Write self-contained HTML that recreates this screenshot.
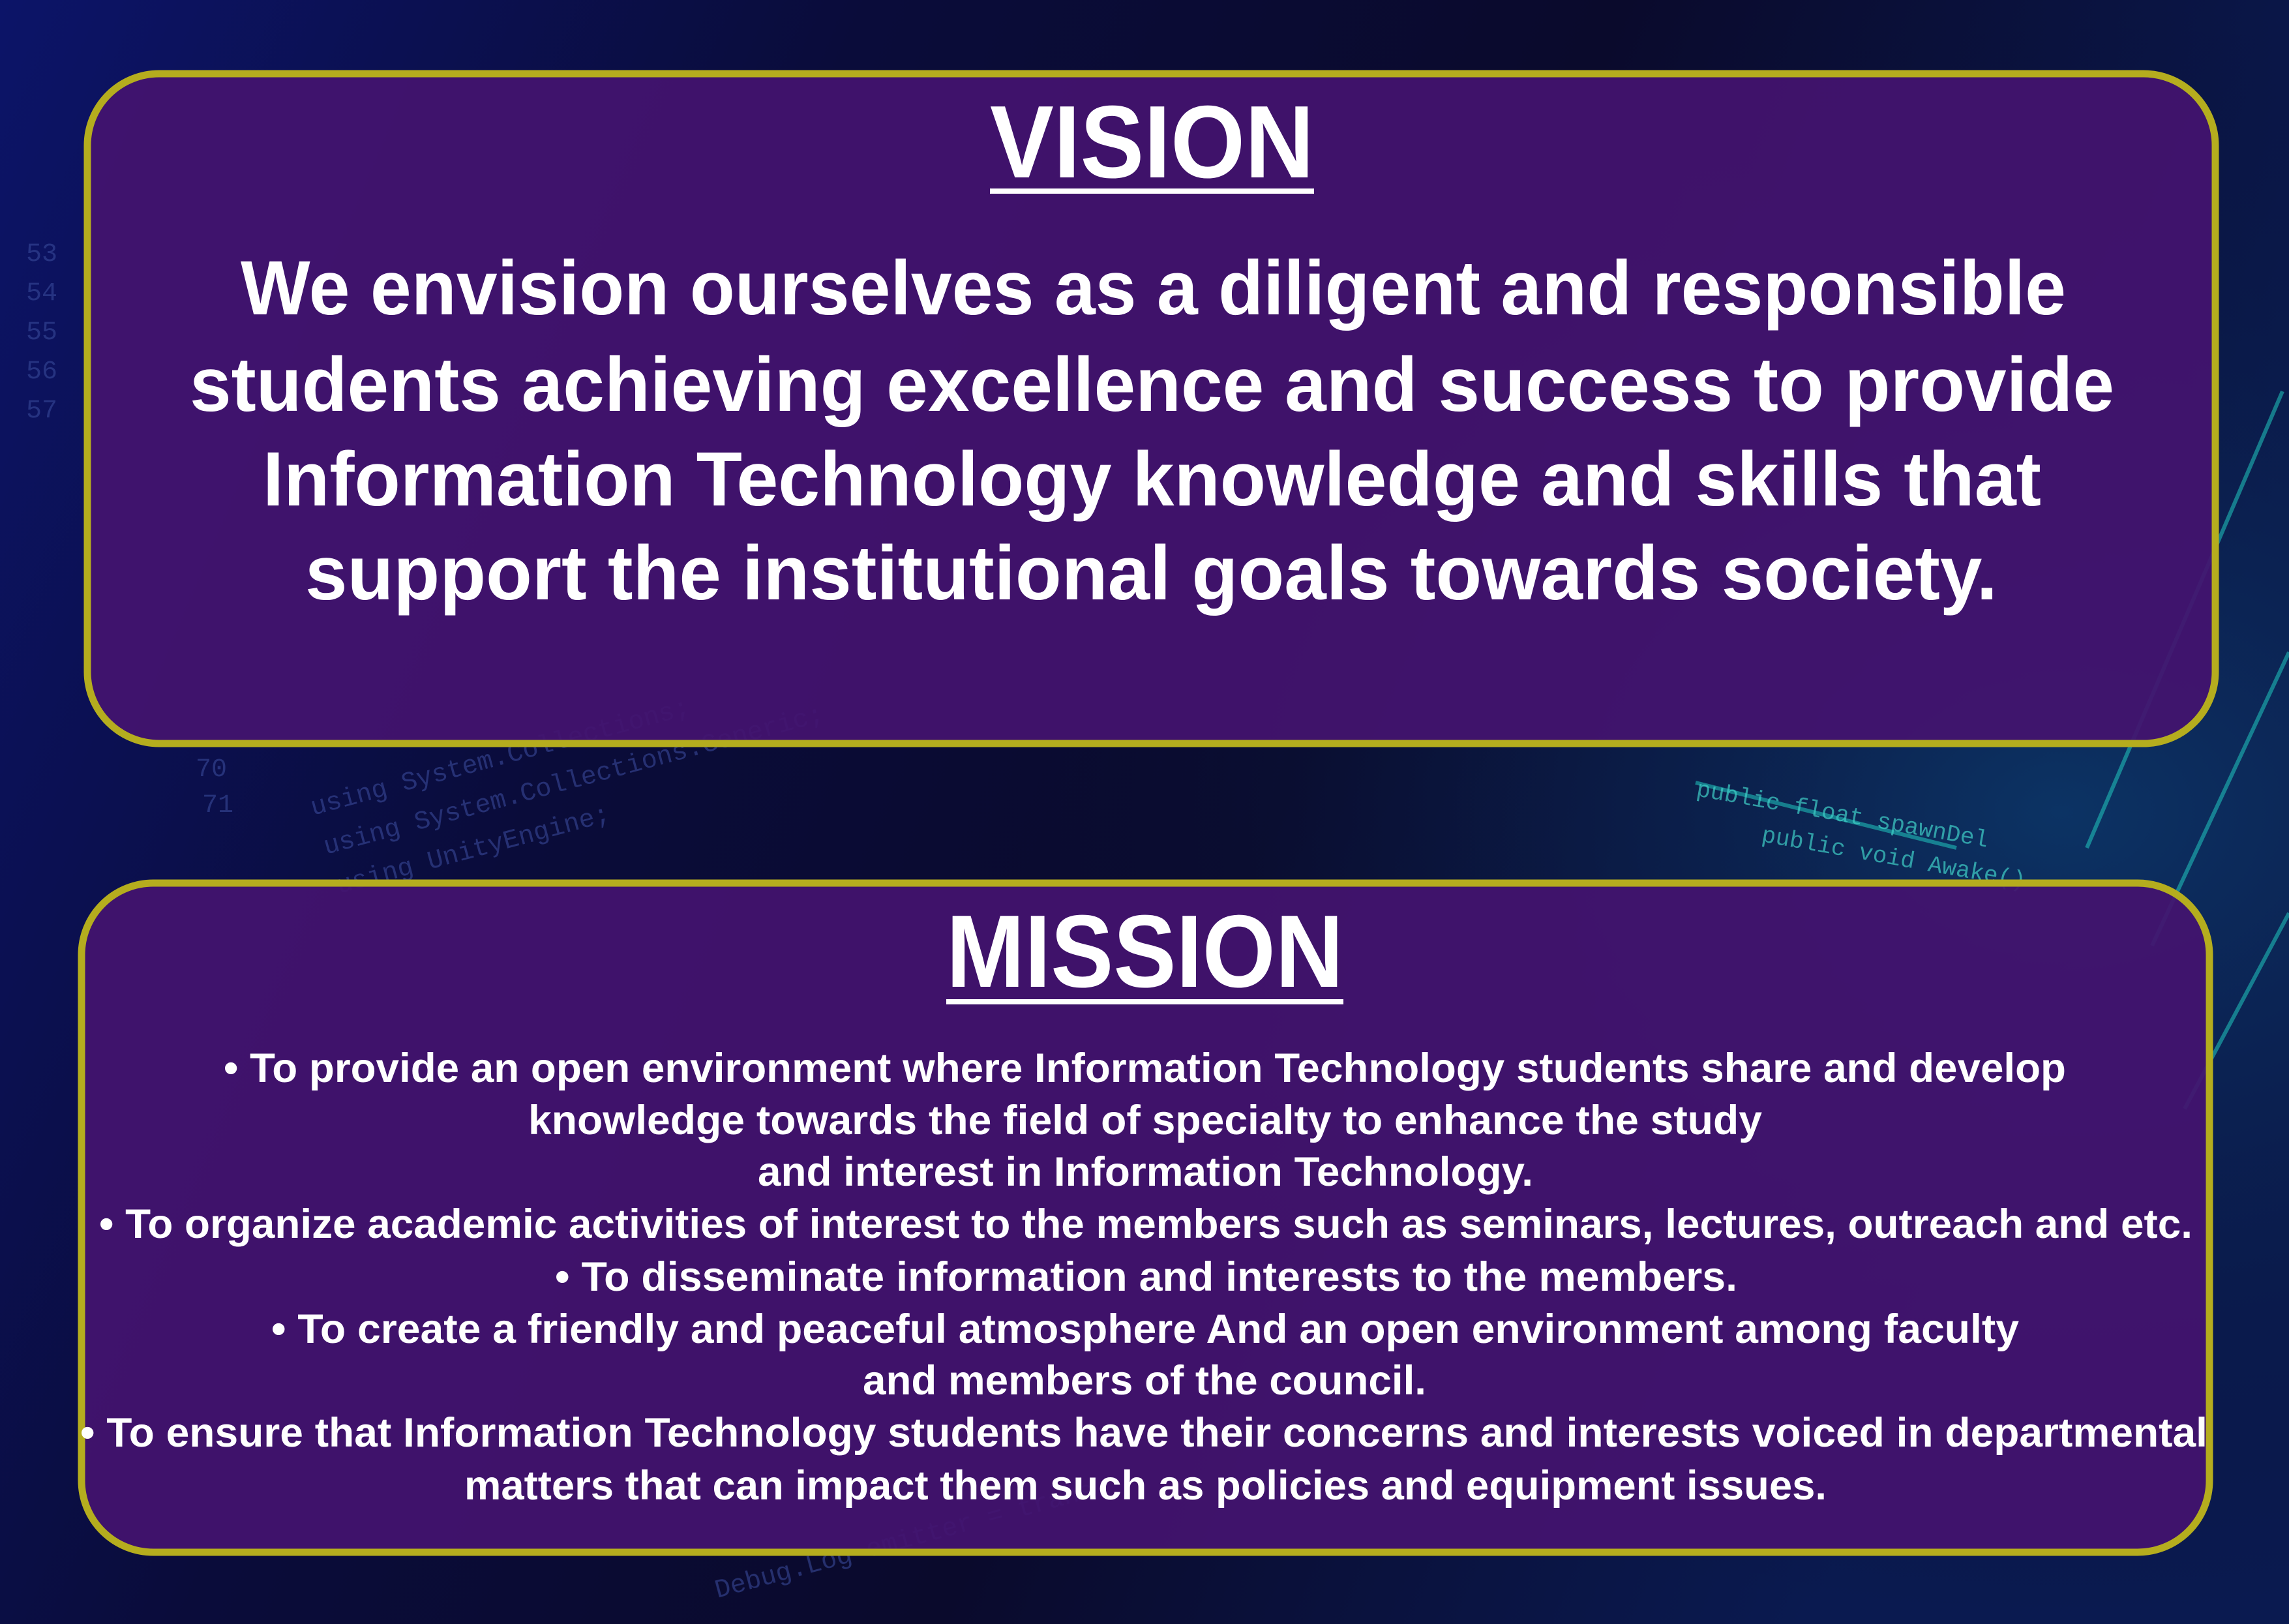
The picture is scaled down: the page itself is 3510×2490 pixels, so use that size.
<!DOCTYPE html>
<html><head><meta charset="utf-8"><style>
html,body{margin:0;padding:0;background:#080a30;}
svg{display:block}
</style></head><body>
<svg width="3510" height="2490" viewBox="0 0 3510 2490" xmlns="http://www.w3.org/2000/svg">
<defs>
<linearGradient id="bg" x1="0" y1="0" x2="1" y2="0.3">
<stop offset="0" stop-color="#0c1468"/>
<stop offset="0.35" stop-color="#0a0c3a"/>
<stop offset="0.65" stop-color="#0a0a2c"/>
<stop offset="1" stop-color="#0a1a50"/>
</linearGradient>
<radialGradient id="glow" cx="0.9" cy="0.5" r="0.5">
<stop offset="0" stop-color="#0d3a6a" stop-opacity="0.8"/>
<stop offset="1" stop-color="#0a0a2c" stop-opacity="0"/>
</radialGradient>
</defs>
<rect width="3510" height="2490" fill="url(#bg)"/>
<rect width="3510" height="2490" fill="url(#glow)"/>
<g font-family="Liberation Mono, monospace" font-size="40" fill="#3a4a9a" opacity="0.6">
<text x="480" y="1250" transform="rotate(-15 480 1250)">using System.Collections;</text>
<text x="500" y="1310" transform="rotate(-15 500 1310)">using System.Collections.Generic;</text>
<text x="520" y="1370" transform="rotate(-15 520 1370)">using UnityEngine;</text>
<text x="300" y="1190">70</text><text x="310" y="1245">71</text>
<text x="1100" y="2450" transform="rotate(-15 1100 2450)">Debug.Log  emitter = trans</text>
<text x="40" y="400">53</text><text x="40" y="460">54</text><text x="40" y="520">55</text><text x="40" y="580">56</text><text x="40" y="640">57</text>
</g>
<g stroke="#20c8c0" stroke-width="6" opacity="0.55">
<line x1="3200" y1="1300" x2="3500" y2="600"/>
<line x1="3300" y1="1450" x2="3510" y2="1000"/>
<line x1="3350" y1="1700" x2="3510" y2="1400"/>
<line x1="2600" y1="1200" x2="3000" y2="1300"/>
</g>
<g font-family="Liberation Mono, monospace" font-size="36" fill="#40d0c8" opacity="0.7">
<text x="2600" y="1220" transform="rotate(10 2600 1220)">public float spawnDel</text>
<text x="2700" y="1290" transform="rotate(10 2700 1290)">public void Awake()</text>
</g>

<rect x="134" y="113" width="3263" height="1027" rx="110" fill="#44136f" fill-opacity="0.93" stroke="#b5ad1e" stroke-width="11"/>
<rect x="125" y="1354" width="3263" height="1026" rx="110" fill="#44136f" fill-opacity="0.93" stroke="#b5ad1e" stroke-width="11"/>

<g font-family="Liberation Sans, sans-serif" font-weight="bold" fill="#ffffff" text-anchor="start">
<text x="1518" y="272" font-size="158" textLength="497" lengthAdjust="spacingAndGlyphs">VISION</text>
<rect x="1518" y="289" width="497" height="8" fill="#ffffff"/>
<text x="1451" y="1513" font-size="158" textLength="609" lengthAdjust="spacingAndGlyphs">MISSION</text>
<rect x="1451" y="1532" width="609" height="8" fill="#ffffff"/>

<g font-size="118">
<text x="369" y="482" textLength="2799" lengthAdjust="spacingAndGlyphs">We envision ourselves as a diligent and responsible</text>
<text x="291" y="630" textLength="2951" lengthAdjust="spacingAndGlyphs">students achieving excellence and success to provide</text>
<text x="403" y="775" textLength="2727" lengthAdjust="spacingAndGlyphs">Information Technology knowledge and skills that</text>
<text x="468" y="919" textLength="2595" lengthAdjust="spacingAndGlyphs">support the institutional goals towards society.</text>
</g>

<g font-size="63">
<text x="343" y="1659" textLength="2825" lengthAdjust="spacingAndGlyphs">•  To provide an open environment where Information Technology students share and develop</text>
<text x="810" y="1739" textLength="1892" lengthAdjust="spacingAndGlyphs">knowledge towards the field of specialty to enhance the study</text>
<text x="1162" y="1818" textLength="1189" lengthAdjust="spacingAndGlyphs">and interest in Information Technology.</text>
<text x="152" y="1898" textLength="3210" lengthAdjust="spacingAndGlyphs">• To organize academic activities of interest to the members such as seminars, lectures, outreach and etc.</text>
<text x="851" y="1979" textLength="1813" lengthAdjust="spacingAndGlyphs">•  To disseminate information and interests to the members.</text>
<text x="416" y="2059" textLength="2680" lengthAdjust="spacingAndGlyphs">•  To create a friendly and peaceful atmosphere And an open environment among faculty</text>
<text x="1323" y="2138" textLength="864" lengthAdjust="spacingAndGlyphs">and members of the council.</text>
<text x="123" y="2218" textLength="3262" lengthAdjust="spacingAndGlyphs">•  To ensure that Information Technology students have their concerns and interests voiced in departmental</text>
<text x="712" y="2299" textLength="2089" lengthAdjust="spacingAndGlyphs">matters that can impact them such as policies and equipment issues.</text>
</g>
</g>
</svg>
</body></html>
